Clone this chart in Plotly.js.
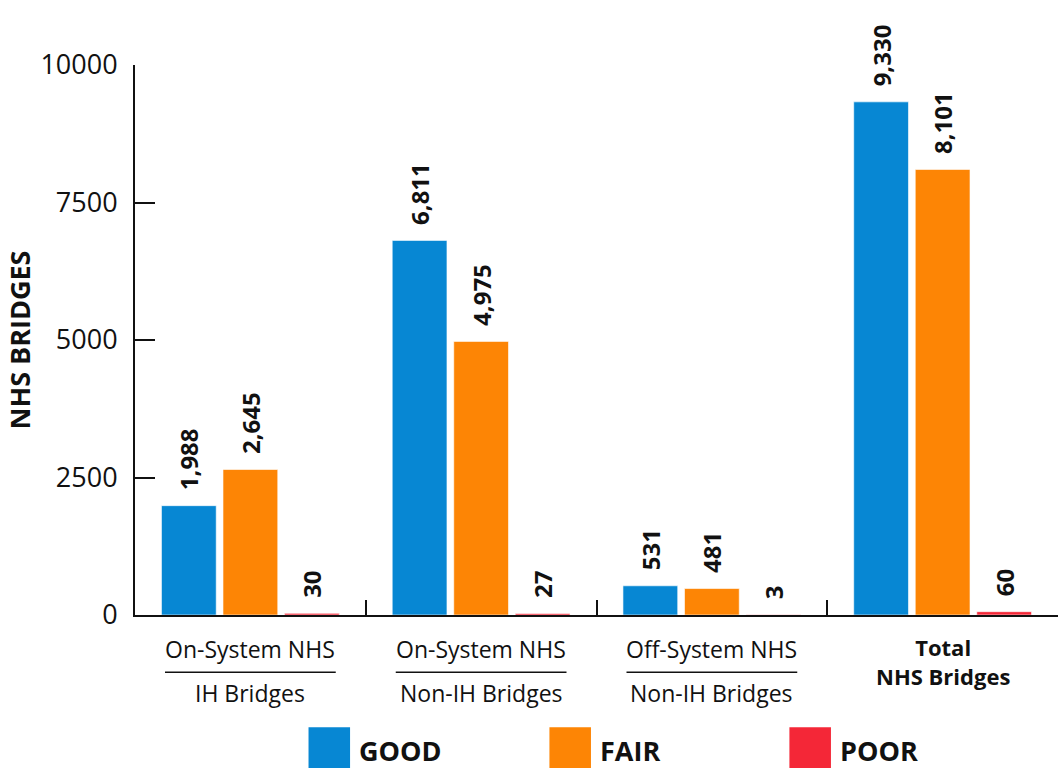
<!DOCTYPE html>
<html>
<head>
<meta charset="utf-8">
<script src="https://cdn.plot.ly/plotly-3.0.1.min.js"></script>
<style>html,body{margin:0;padding:0;background:#fff;}#chart{width:1058px;height:768px;}</style>
</head>
<body>
<div id="chart"></div>
<script>
// ---- data ----
const categories = ["On-System NHS IH Bridges", "On-System NHS Non-IH Bridges", "Off-System NHS Non-IH Bridges", "Total NHS Bridges"];
const labelTop = ["On-System NHS", "On-System NHS", "Off-System NHS", "<b>Total</b>"];
const labelBottom = ["IH Bridges", "Non-IH Bridges", "Non-IH Bridges", "<b>NHS Bridges</b>"];
const seriesNames = ["GOOD", "FAIR", "POOR"];
const good = [1988, 6811, 531, 9330];
const fair = [2645, 4975, 481, 8101];
const poor = [30, 27, 3, 60];
const yTicks = [0, 2500, 5000, 7500, 10000];

const colors = ["#0787d3", "#fd8505", "#f42737"];
const font = "Open Sans, sans-serif";
const seriesValues = [good, fair, poor];

const traces = seriesValues.map((vals, i) => ({
  type: "bar",
  name: seriesNames[i],
  x: categories,
  y: vals,
  marker: {color: colors[i], line: {color: "rgba(255,255,255,0.6)", width: 1}},
  texttemplate: "\u00a0\u00a0%{y:,}",
  textposition: "outside",
  textangle: -90,
  constraintext: "none",
  textfont: {family: font, size: 24, color: "#111", weight: "bold"},
  cliponaxis: false,
  showlegend: false,
  hoverinfo: "x+y"
}));

const annotations = [];
const shapes = [];
const catFont = {family: font, size: 23, color: "#111"};
categories.forEach((c, i) => {
  const isTotal = i === categories.length - 1;
  if (isTotal) {
    annotations.push({x: c, xref: "x", yref: "paper", y: -0.085, yanchor: "middle",
      text: labelTop[i] + "<br>" + labelBottom[i], showarrow: false,
      font: {family: font, size: 22, color: "#111"}});
  } else {
    annotations.push({x: c, xref: "x", yref: "paper", y: -0.062, yanchor: "middle",
      text: labelTop[i], showarrow: false, font: catFont});
    annotations.push({x: c, xref: "x", yref: "paper", y: -0.142, yanchor: "middle",
      text: labelBottom[i], showarrow: false, font: catFont});
    shapes.push({type: "line", xref: "x", yref: "paper", x0: i - 0.37, x1: i + 0.37,
      y0: -0.104, y1: -0.104, line: {color: "#111", width: 1.5}});
  }
});

// manual legend with large swatches
const legendX = [0.188, 0.449, 0.709];
seriesNames.forEach((n, i) => {
  shapes.push({type: "rect", xref: "paper", yref: "paper", x0: legendX[i], x1: legendX[i] + 0.045,
    y0: -0.204, y1: -0.29, fillcolor: colors[i], line: {width: 0}});
  annotations.push({xref: "paper", yref: "paper", x: legendX[i] + 0.053, y: -0.247, xanchor: "left",
    yanchor: "middle", text: "<b>" + n + "</b>", showarrow: false,
    font: {family: font, size: 27, color: "#111"}});
});

const layout = {
  width: 1058, height: 768,
  margin: {l: 135, r: 0, t: 65, b: 153},
  paper_bgcolor: "#fff", plot_bgcolor: "#fff",
  barmode: "group", bargap: 0.2, bargroupgap: 0.11,
  font: {family: font, color: "#111"},
  xaxis: {
    type: "category", showticklabels: false, showline: true, linecolor: "#111", linewidth: 2,
    ticks: "inside", tickson: "boundaries", ticklen: 15, tickwidth: 2, tickcolor: "#111",
    showgrid: false, zeroline: false, range: [-0.5, 3.5]
  },
  yaxis: {
    range: [0, 10000], tickvals: yTicks, ticktext: yTicks.map(String),
    showline: true, linecolor: "#111", linewidth: 2,
    ticks: "inside", ticklen: 20, tickwidth: 2, tickcolor: "#111",
    ticklabelstandoff: 10,
    tickfont: {family: font, size: 27, color: "#111"},
    showgrid: false, zeroline: false,
    title: {text: "<b>NHS BRIDGES</b>", font: {family: font, size: 27, color: "#111"}, standoff: 2}
  },
  annotations: annotations,
  shapes: shapes,
  showlegend: false
};

Plotly.newPlot("chart", traces, layout, {displayModeBar: false, staticPlot: true});
</script>
</body>
</html>
